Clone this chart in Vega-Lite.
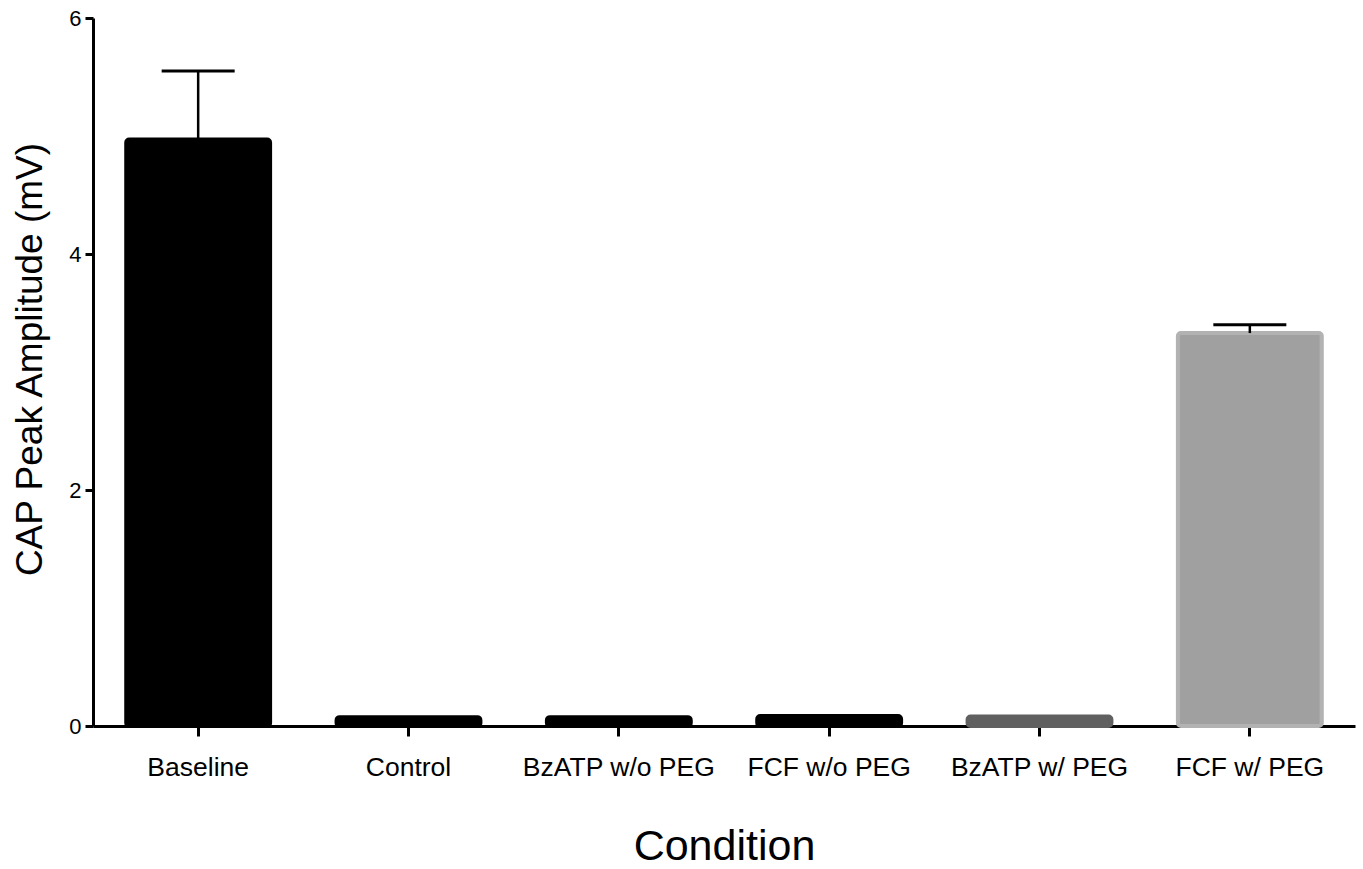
{
  "$schema": "https://vega.github.io/schema/vega-lite/v6.json",
  "autosize": {"type": "none"},
  "padding": {"left": 93, "top": 18, "right": 8, "bottom": 143},
  "width": 1262,
  "height": 708,
  "background": "white",
  "config": {
    "view": {"stroke": null},
    "font": "Liberation Sans",
    "axis": {"grid": false, "domainColor": "black", "tickColor": "black", "labelColor": "black", "titleColor": "black", "titleFontWeight": "normal", "labelFont": "Liberation Sans", "titleFont": "Liberation Sans"}
  },
  "data": {
    "values": [
      {"condition": "Baseline", "amplitude": 4.97, "upper": 5.55},
      {"condition": "Control", "amplitude": 0.075, "upper": null},
      {"condition": "BzATP w/o PEG", "amplitude": 0.075, "upper": null},
      {"condition": "FCF w/o PEG", "amplitude": 0.085, "upper": null},
      {"condition": "BzATP w/ PEG", "amplitude": 0.08, "upper": null},
      {"condition": "FCF w/ PEG", "amplitude": 3.33, "upper": 3.4}
    ]
  },
  "encoding": {
    "x": {
      "field": "condition",
      "type": "nominal",
      "sort": null,
      "scale": {"paddingInner": 0.316, "paddingOuter": 0.158},
      "axis": {
        "title": "Condition",
        "labelAngle": 0,
        "labelFontSize": 26.5,
        "labelLimit": 400,
        "labelPadding": 18,
        "tickSize": 10,
        "tickWidth": 3,
        "domainWidth": 3,
        "titleFontSize": 43,
        "titleBaseline": "alphabetic",
        "titleY": 133
      }
    }
  },
  "layer": [
    {
      "mark": {"type": "bar", "cornerRadius": 3, "strokeWidth": 4},
      "encoding": {
        "y": {
          "field": "amplitude",
          "type": "quantitative",
          "scale": {"domain": [0, 6], "nice": false},
          "axis": {
            "title": "CAP Peak Amplitude (mV)",
            "values": [0, 2, 4, 6],
            "format": "d",
            "labelFontSize": 22,
            "labelPadding": 4,
            "tickSize": 8,
            "tickWidth": 3,
            "domainWidth": 3,
            "titleFontSize": 37,
            "titleBaseline": "alphabetic",
            "titleAngle": 270,
            "titleX": -52,
            "titleY": 341
          }
        },
        "color": {
          "field": "condition",
          "type": "nominal",
          "legend": null,
          "scale": {
            "domain": ["Baseline", "Control", "BzATP w/o PEG", "FCF w/o PEG", "BzATP w/ PEG", "FCF w/ PEG"],
            "range": ["#000000", "#000000", "#000000", "#000000", "#606060", "#a0a0a0"]
          }
        },
        "stroke": {
          "field": "condition",
          "type": "nominal",
          "legend": null,
          "scale": {
            "domain": ["Baseline", "Control", "BzATP w/o PEG", "FCF w/o PEG", "BzATP w/ PEG", "FCF w/ PEG"],
            "range": ["#000000", "#000000", "#000000", "#000000", "#606060", "#b2b2b2"]
          }
        }
      }
    },
    {
      "transform": [{"filter": "datum.upper != null"}],
      "mark": {"type": "rule", "color": "black", "strokeWidth": 2.5},
      "encoding": {
        "y": {"field": "amplitude", "type": "quantitative"},
        "y2": {"field": "upper"}
      }
    },
    {
      "transform": [{"filter": "datum.upper != null"}],
      "mark": {"type": "tick", "color": "black", "size": 73, "thickness": 3, "opacity": 1},
      "encoding": {
        "y": {"field": "upper", "type": "quantitative"}
      }
    }
  ]
}
